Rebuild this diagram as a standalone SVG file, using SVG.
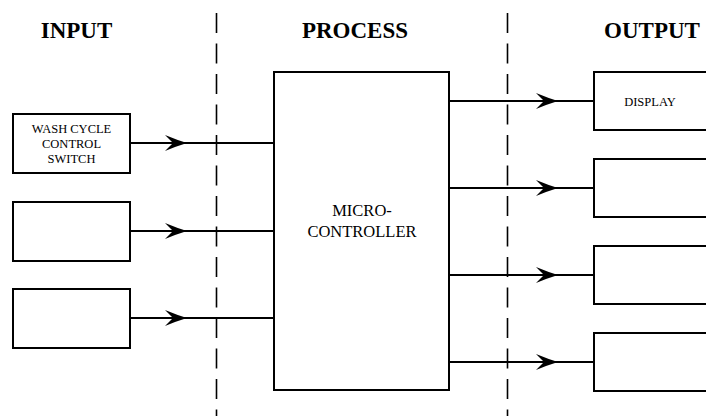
<svg xmlns="http://www.w3.org/2000/svg" width="706" height="416" viewBox="0 0 706 416">
<style>
.box{fill:#fff;stroke:#000;stroke-width:2}
.wire{fill:none;stroke:#000;stroke-width:2}
.div{fill:none;stroke:#000;stroke-width:1.6;stroke-dasharray:20 10.5}
.hd{font-family:"Liberation Serif","Times New Roman",serif;font-weight:bold;font-size:23px;text-anchor:middle;fill:#000}
.lb{font-family:"Liberation Serif","Times New Roman",serif;font-size:12.5px;text-anchor:middle;fill:#000}
.mc{font-family:"Liberation Serif","Times New Roman",serif;font-size:16.5px;text-anchor:middle;fill:#000}
</style>
<defs>
<marker id="ah" markerUnits="userSpaceOnUse" markerWidth="24" markerHeight="18" refX="0" refY="0" viewBox="-23 -9 24 18" orient="auto" overflow="visible">
<path d="M0,0 Q-10,-3 -22,-8 L-14,0 L-22,8 Q-10,3 0,0 Z" fill="#000"/>
</marker>
</defs>
<rect width="706" height="416" fill="#fff"/>
<g id="headers">
<text class="hd" x="76.5" y="38">INPUT</text>
<text class="hd" x="355" y="38">PROCESS</text>
<text class="hd" x="652" y="38">OUTPUT</text>
</g>
<g id="dividers">
<line class="div" x1="216.5" y1="13" x2="216.5" y2="416"/>
<line class="div" x1="507.5" y1="13" x2="507.5" y2="416"/>
</g>
<g id="connectors">
<line class="wire" x1="130" y1="143" x2="274" y2="143"/>
<line class="wire" x1="130" y1="143" x2="187" y2="143" marker-end="url(#ah)"/>
<line class="wire" x1="130" y1="231" x2="274" y2="231"/>
<line class="wire" x1="130" y1="231" x2="187" y2="231" marker-end="url(#ah)"/>
<line class="wire" x1="130" y1="318" x2="274" y2="318"/>
<line class="wire" x1="130" y1="318" x2="187" y2="318" marker-end="url(#ah)"/>
<line class="wire" x1="449" y1="101" x2="594" y2="101"/>
<line class="wire" x1="449" y1="101" x2="558" y2="101" marker-end="url(#ah)"/>
<line class="wire" x1="449" y1="188" x2="594" y2="188"/>
<line class="wire" x1="449" y1="188" x2="558" y2="188" marker-end="url(#ah)"/>
<line class="wire" x1="449" y1="275" x2="594" y2="275"/>
<line class="wire" x1="449" y1="275" x2="558" y2="275" marker-end="url(#ah)"/>
<line class="wire" x1="449" y1="362" x2="594" y2="362"/>
<line class="wire" x1="449" y1="362" x2="558" y2="362" marker-end="url(#ah)"/>
</g>
<g id="in-switch">
<rect class="box" x="13" y="114" width="117" height="59"/>
<text class="lb" x="71.5" y="133">WASH CYCLE</text>
<text class="lb" x="71.5" y="148">CONTROL</text>
<text class="lb" x="71.5" y="163">SWITCH</text>
</g>
<g id="in-2"><rect class="box" x="13" y="202" width="117" height="59"/></g>
<g id="in-3"><rect class="box" x="13" y="289" width="117" height="59"/></g>
<g id="microcontroller">
<rect class="box" x="274" y="72" width="175" height="318"/>
<text class="mc" x="362" y="216">MICRO-</text>
<text class="mc" x="362" y="237">CONTROLLER</text>
</g>
<g id="out-display">
<rect class="box" x="594" y="72" width="120" height="58"/>
<text class="lb" x="650" y="106">DISPLAY</text>
</g>
<g id="out-2"><rect class="box" x="594" y="159" width="120" height="58"/></g>
<g id="out-3"><rect class="box" x="594" y="246" width="120" height="58"/></g>
<g id="out-4"><rect class="box" x="594" y="333" width="120" height="58"/></g>
</svg>
